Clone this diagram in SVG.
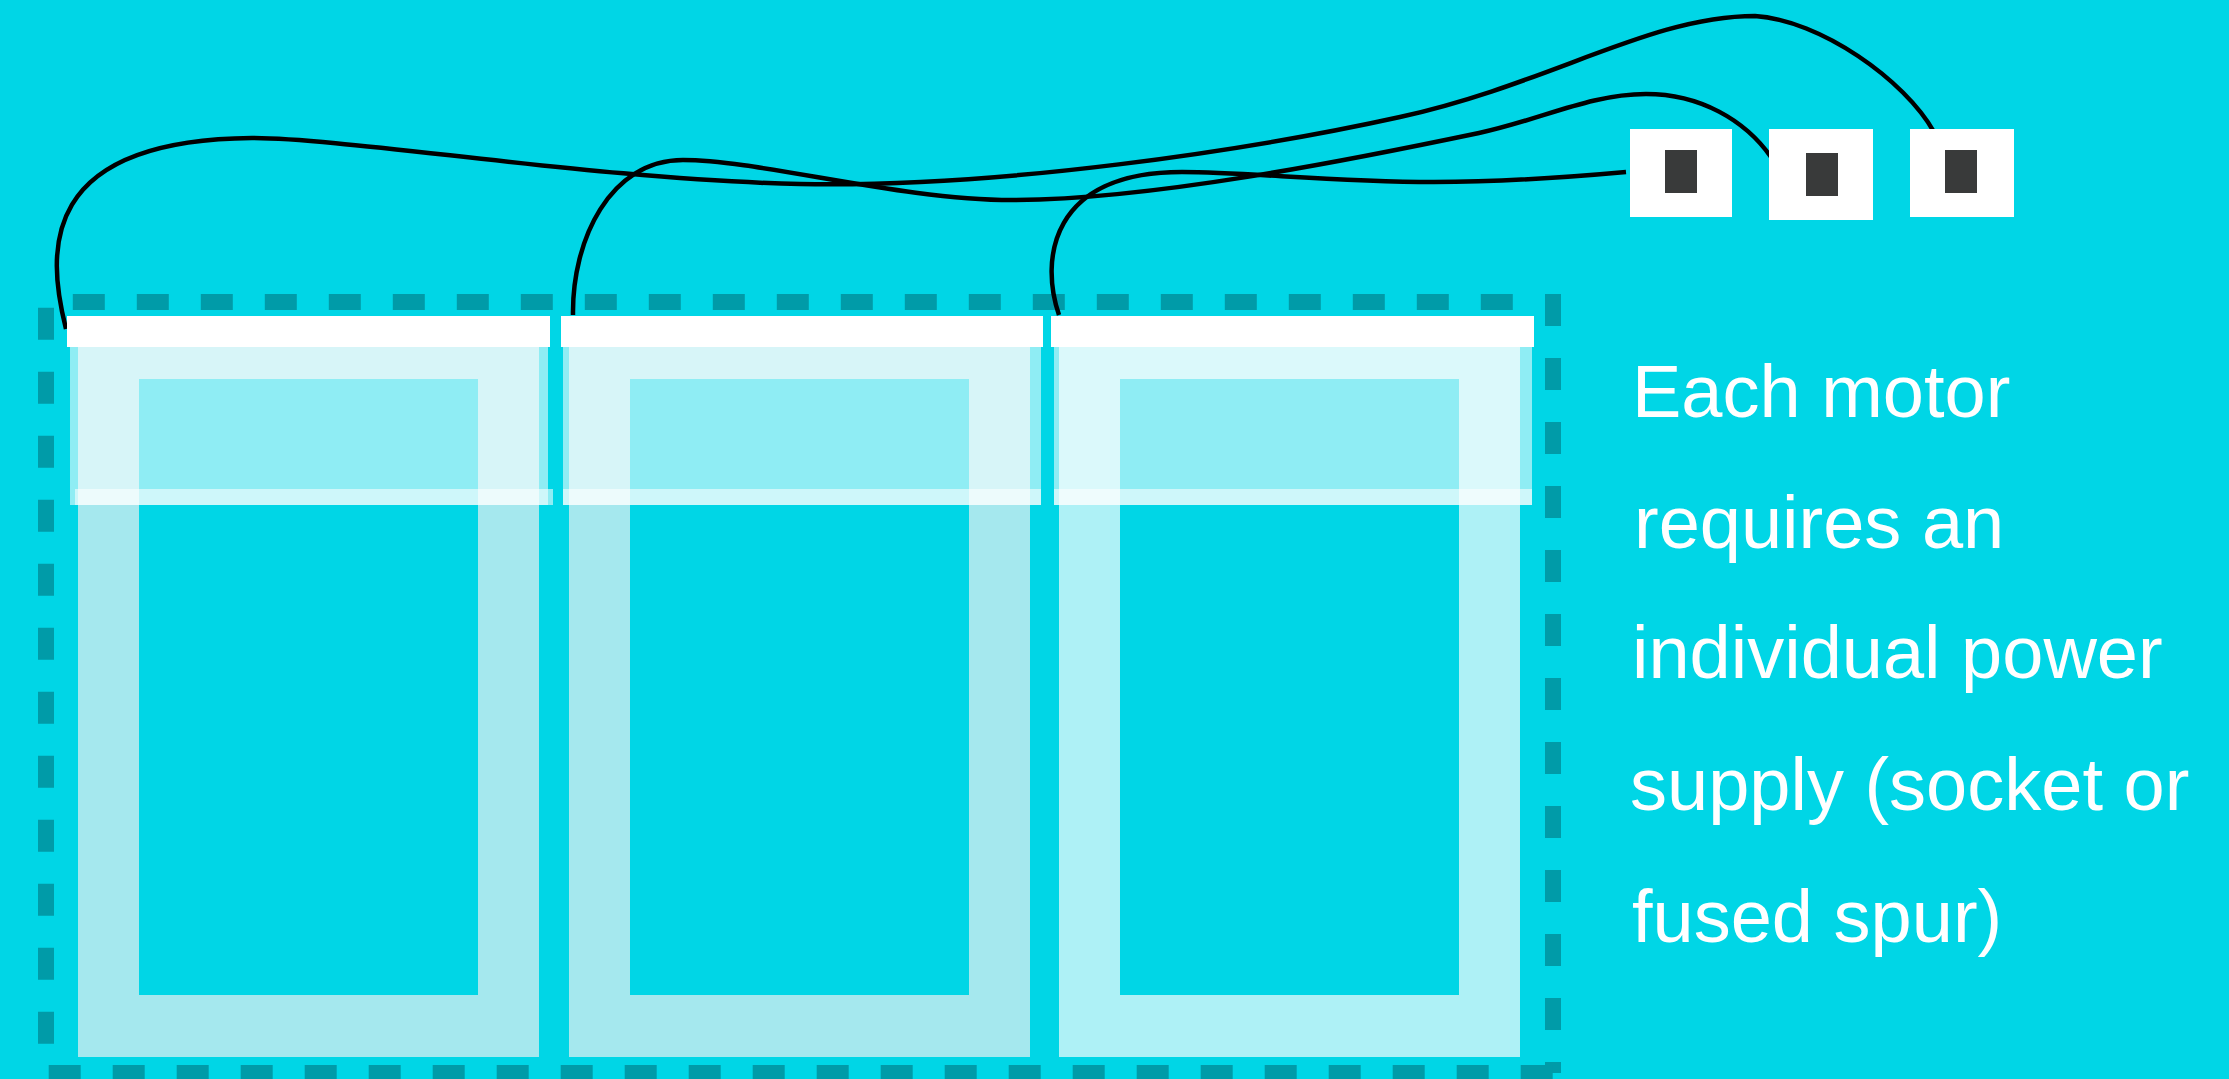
<svg xmlns="http://www.w3.org/2000/svg" width="2229" height="1079" viewBox="0 0 2229 1079">
  <style>
    .dash { stroke: #009ba8; stroke-width: 16; stroke-dasharray: 32 32; fill: none; }
    .wire { stroke: #000; stroke-width: 4.5; fill: none; }
    .frame { fill: #a5e8ee; }
    .frame3 { fill: #aef1f6; }
    .inner { fill: #00d6e6; }
    .lid { fill: #fff; fill-opacity: 0.56; }
    .bar { fill: #fff; }
    .sock { fill: #fff; }
    .pin { fill: #393a3a; }
    .label { font-family: "Liberation Sans", Arial, sans-serif; font-size: 74px; fill: #fff; }
  </style>
  <rect x="0" y="0" width="2229" height="1079" fill="#00d6e6"/>

  <g id="enclosure">
    <line class="dash" x1="72.8" y1="302" x2="1513" y2="302"/>
    <line class="dash" x1="1553" y1="294" x2="1553" y2="1073"/>
    <line class="dash" x1="48.7" y1="1073" x2="1553" y2="1073"/>
    <line class="dash" x1="46" y1="307.7" x2="46" y2="1044"/>
  </g>

  <g id="connectors">
    <path class="wire" d="M66,329 C46,250 40,140 252,138 C350,138 600,180 800,184 C1000,188 1250,150 1400,117 C1550,84 1650,16 1755,16 C1820,20 1905,80 1934,132"/>
    <path class="wire" d="M573,315 C572,240 610,160 683,160 C760,160 900,200 1012,200 C1150,200 1350,160 1479,133 C1540,120 1590,94 1646,94 C1700,94 1745,120 1771,157"/>
    <path class="wire" d="M1059,315 C1040,260 1050,172 1182,172 C1250,172 1330,182 1434,182 C1500,182 1560,178 1626,172"/>
  </g>

  <g id="motor1">
    <rect class="frame" x="78" y="318" width="461" height="739"/>
    <rect class="inner" x="139" y="379" width="339" height="616"/>
    <rect class="lid" x="70" y="347" width="478" height="158"/>
    <rect class="lid" x="75" y="489" width="478" height="16"/>
    <rect class="bar" x="67" y="316" width="483" height="31"/>
  </g>

  <g id="motor2">
    <rect class="frame" x="569" y="318" width="461" height="739"/>
    <rect class="inner" x="630" y="379" width="339" height="616"/>
    <rect class="lid" x="563" y="347" width="478" height="158"/>
    <rect class="lid" x="563" y="489" width="478" height="16"/>
    <rect class="bar" x="561" y="316" width="482" height="31"/>
  </g>

  <g id="motor3">
    <rect class="frame3" x="1059" y="318" width="461" height="739"/>
    <rect class="inner" x="1120" y="379" width="339" height="616"/>
    <rect class="lid" x="1054" y="347" width="478" height="158"/>
    <rect class="lid" x="1054" y="489" width="478" height="16"/>
    <rect class="bar" x="1051" y="316" width="483" height="31"/>
  </g>

  <g id="socket1">
    <rect class="sock" x="1630" y="129" width="102" height="88"/>
    <rect class="pin" x="1665" y="150" width="32" height="43"/>
  </g>
  <g id="socket2">
    <rect class="sock" x="1769" y="129" width="104" height="91"/>
    <rect class="pin" x="1806" y="153" width="32" height="43"/>
  </g>
  <g id="socket3">
    <rect class="sock" x="1910" y="129" width="104" height="88"/>
    <rect class="pin" x="1945" y="150" width="32" height="43"/>
  </g>

  <g id="note">
    <text class="label" x="1632" y="417">Each motor</text>
    <text class="label" x="1634" y="548">requires an</text>
    <text class="label" x="1632" y="678">individual power</text>
    <text class="label" x="1630" y="810">supply (socket or</text>
    <text class="label" x="1632" y="942">fused spur)</text>
  </g>
</svg>
